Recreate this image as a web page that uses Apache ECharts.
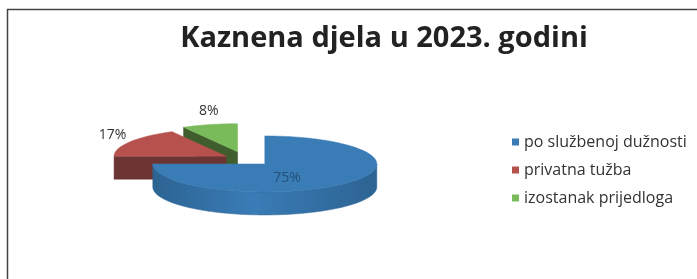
<!DOCTYPE html>
<html>
<head>
<meta charset="utf-8">
<script src="https://cdn.jsdelivr.net/npm/echarts@6/dist/echarts.min.js"></script>
<style>
html, body { margin: 0; padding: 0; background: #fff; }
#main { width: 697px; height: 279px; }
</style>
</head>
<body>
<div id="main"></div>
<script>
const categories = ['po službenoj dužnosti', 'privatna tužba', 'izostanak prijedloga'];
const shares = [75, 17, 8];
const labels = ['75%', '17%', '8%'];

const topColors = ['#3a7cb6', '#b7514e', '#79ba5b'];
const sideColors = ['#2c6392', '#6c3533', '#3f5d2d'];

// 3d pie geometry (excel style, tilted + exploded)
const cx = 245, cy = 159, rx = 112, ry = 28, depth = 23;
const explode = [28, 22, 30];
const total = shares.reduce((a, b) => a + b, 0);

function sliceAngles(i) {
    let before = 0;
    for (let k = 0; k < i; k++) before += shares[k];
    const s = before / total * Math.PI * 2;
    const e = (before + shares[i]) / total * Math.PI * 2;
    return [s, e];
}

function renderSlice(params, api) {
    const i = params.seriesIndex;
    const [s, e] = sliceAngles(i);
    const mid = (s + e) / 2;
    const x0 = cx + explode[i] * Math.sin(mid);
    const y0 = cy - explode[i] * Math.cos(mid) * ry / rx;
    const P = (t, dz) => [x0 + rx * Math.sin(t), y0 - ry * Math.cos(t) + dz];
    const arc = (a, b, dz) => {
        const pts = [];
        const n = Math.max(2, Math.ceil(Math.abs(b - a) / 0.03));
        for (let k = 0; k <= n; k++) pts.push(P(a + (b - a) * k / n, dz));
        return pts;
    };
    const base = Math.round((1 - Math.cos(mid)) * 10) * 4;
    const children = [];

    // radial cut faces
    const cut = (a, normal) => {
        if (Math.cos(normal) < -1e-6) {
            children.push({
                type: 'polygon', z2: base,
                shape: { points: [[x0, y0], P(a, 0), P(a, depth), [x0, y0 + depth]] },
                style: { fill: sideColors[i], stroke: sideColors[i], lineWidth: 0.5 }
            });
        }
    };
    cut(s, s - Math.PI / 2);
    cut(e, e + Math.PI / 2);

    // outer wall (front half only)
    const ws = Math.max(s, Math.PI / 2), we = Math.min(e, Math.PI * 1.5);
    if (we > ws) {
        const pts = arc(ws, we, 0).concat(arc(we, ws, depth));
        children.push({
            type: 'polygon', z2: base + 1,
            shape: { points: pts },
            style: {
                fill: new echarts.graphic.LinearGradient(0, 0, 1, 0, [
                    { offset: 0, color: sideColors[i] },
                    { offset: 0.45, color: topColors[i] },
                    { offset: 1, color: sideColors[i] }
                ]),
                stroke: sideColors[i], lineWidth: 0.5
            }
        });
    }

    // top face
    children.push({
        type: 'polygon', z2: base + 2,
        shape: { points: [[x0, y0]].concat(arc(s, e, 0)) },
        style: { fill: topColors[i], stroke: topColors[i], lineWidth: 0.5 }
    });

    // label
    let lx, ly, align;
    if (shares[i] > 50) {
        lx = x0 + rx * 0.28 * Math.sin(mid);
        ly = y0 - ry * 0.7 * Math.cos(mid);
        align = 'center';
    } else {
        lx = x0 + (rx + 4) * Math.sin(mid);
        ly = y0 - (ry + 14) * Math.cos(mid);
        align = Math.sin(mid) < -0.5 ? 'right' : 'center';
    }
    children.push({
        type: 'text', z2: 100,
        style: {
            x: lx, y: ly, text: labels[i], align: align, verticalAlign: 'middle',
            fill: shares[i] > 50 ? '#24527c' : '#333',
            font: '14px "Open Sans"'
        }
    });

    return { type: 'group', children: children };
}

const chart = echarts.init(document.getElementById('main'));
chart.setOption({
    animation: false,
    backgroundColor: '#fff',
    title: {
        text: 'Kaznena djela u 2023. godini',
        left: 379, top: 19, textAlign: 'center',
        textStyle: { fontFamily: 'Open Sans', fontSize: 29, fontWeight: 'bold', color: '#222' }
    },
    legend: {
        orient: 'vertical', left: 507, top: 129,
        icon: 'rect', itemWidth: 7, itemHeight: 7, itemGap: 12,
        data: categories,
        textStyle: { fontFamily: 'Open Sans', fontSize: 16, color: '#333', padding: [0, 0, 0, 0] }
    },
    graphic: [{
        type: 'rect', silent: true,
        shape: { x: 7.5, y: 9.5, width: 720, height: 300 },
        style: { fill: 'none', stroke: '#444', lineWidth: 1.5 }
    }],
    series: categories.map((name, i) => ({
        type: 'custom', name: name,
        coordinateSystem: 'none',
        itemStyle: { color: topColors[i] },
        renderItem: renderSlice,
        data: [[shares[i]]]
    }))
});

window.addEventListener('resize', function () {
    chart.resize();
});
</script>
</body>
</html>
